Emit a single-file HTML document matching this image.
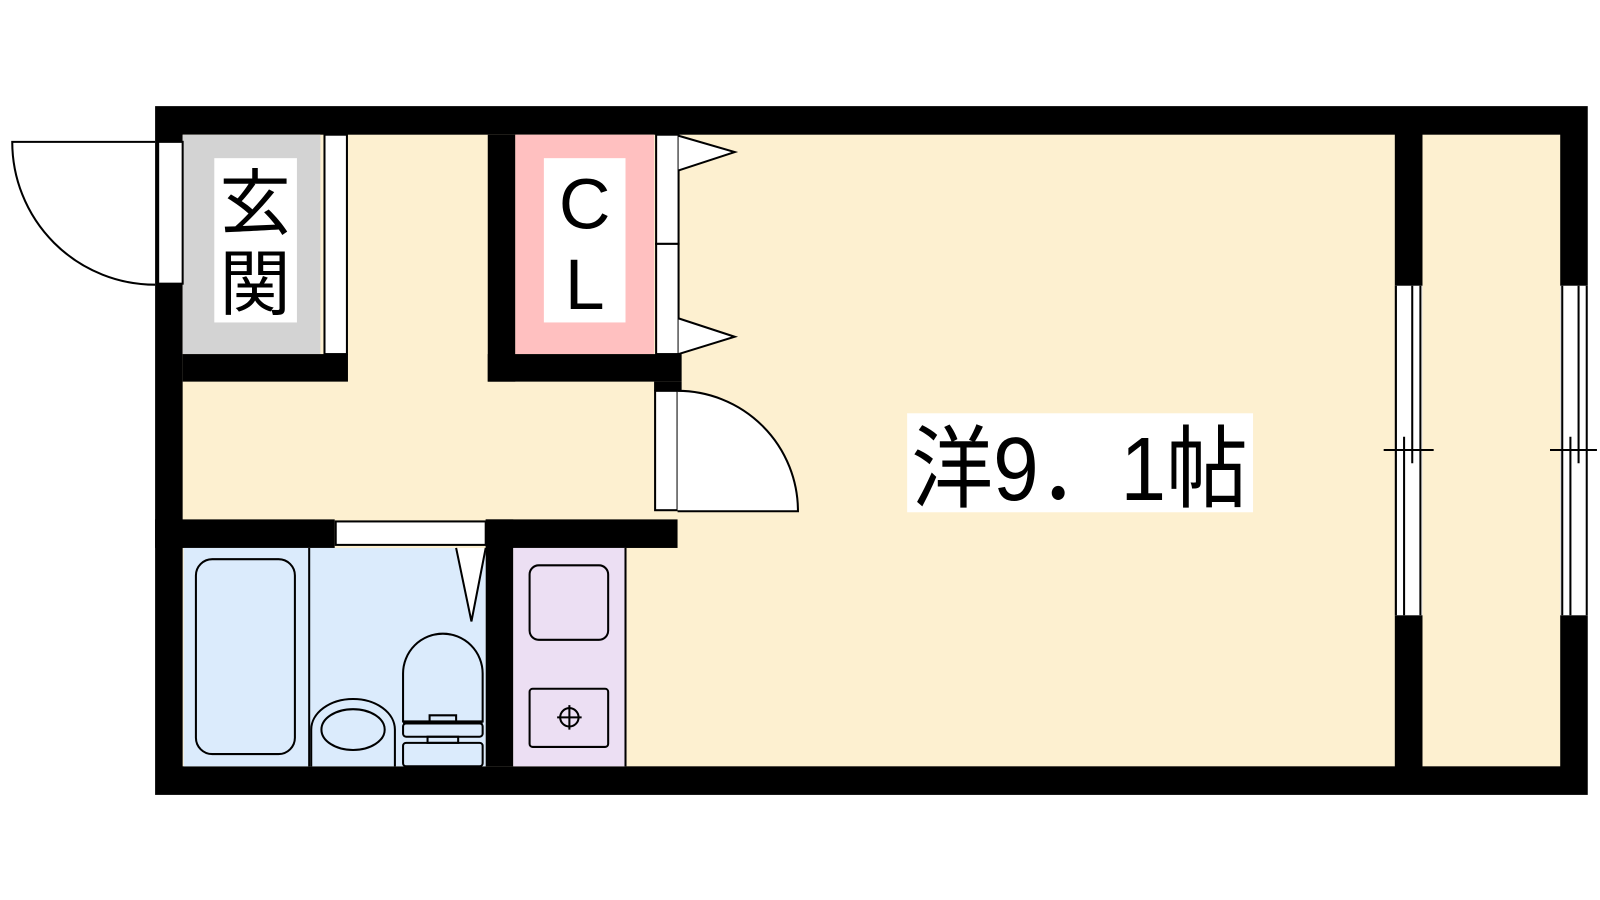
<!DOCTYPE html>
<html><head><meta charset="utf-8"><style>
html,body{margin:0;padding:0;background:#fff;}
svg{display:block;}
text{font-family:"Liberation Sans","Noto Sans CJK JP",sans-serif;}
</style></head><body>
<svg width="1600" height="900" viewBox="0 0 1568 882" xmlns="http://www.w3.org/2000/svg">
<rect width="1568" height="882" fill="#fff"/>
<!-- outer walls -->
<rect x="152" y="104" width="1404" height="675" fill="#000"/>
<!-- interior yellow -->
<rect x="179" y="132" width="1188" height="619" fill="#fdf0d0"/>
<rect x="1394" y="132" width="135" height="619" fill="#fdf0d0"/>
<!-- genkan -->
<rect x="179" y="132" width="135" height="215" fill="#d3d3d3"/>
<rect x="318" y="132" width="22" height="215" fill="#fff" stroke="#000" stroke-width="2"/>
<rect x="179" y="347" width="162" height="27" fill="#000"/>
<rect x="210" y="155" width="81" height="161" fill="#fff"/>
<text x="250" y="224" font-size="70" text-anchor="middle">玄</text>
<text x="250" y="303" font-size="70" text-anchor="middle">関</text>
<!-- entrance door -->
<rect x="155" y="139" width="24" height="139" fill="#fff" stroke="#000" stroke-width="2"/>
<path d="M152 139 L12 139 A140 140 0 0 0 152 279" fill="none" stroke="#000" stroke-width="2"/>
<!-- CL -->
<rect x="478" y="132" width="27" height="242" fill="#000"/>
<rect x="505" y="132" width="136" height="215" fill="#ffc0c0"/>
<rect x="478" y="347" width="190" height="27" fill="#000"/>
<rect x="641" y="374" width="27" height="9" fill="#000"/>
<rect x="643" y="132" width="22" height="107" fill="#fff" stroke="#000" stroke-width="2"/>
<rect x="643" y="239" width="22" height="108" fill="#fff" stroke="#000" stroke-width="2"/>
<path d="M665 133 L720 149 L665 167" fill="#fff" stroke="#000" stroke-width="2"/>
<path d="M665 312 L720 330 L665 347" fill="#fff" stroke="#000" stroke-width="2"/>
<rect x="533" y="155" width="80" height="161" fill="#fff"/>
<text x="573" y="224" font-size="70" text-anchor="middle">C</text>
<text x="573" y="303" font-size="70" text-anchor="middle">L</text>
<!-- hall door to room -->
<rect x="642" y="383" width="22" height="117" fill="#fff" stroke="#000" stroke-width="2"/>
<path d="M664 383 A118 118 0 0 1 782 501 L664 501" fill="#fff" stroke="#000" stroke-width="2"/>
<!-- wall under hall -->
<rect x="152" y="509" width="176" height="28" fill="#000"/>
<rect x="476" y="509" width="188" height="28" fill="#000"/>
<rect x="329" y="511" width="147" height="23" fill="#fff" stroke="#000" stroke-width="2"/>
<!-- bath -->
<rect x="180" y="537" width="296" height="214" fill="#dbebfc"/>
<line x1="303" y1="537" x2="303" y2="751" stroke="#000" stroke-width="2"/>
<rect x="192" y="548" width="97" height="191" rx="16" fill="none" stroke="#000" stroke-width="2"/>
<path d="M447 537 L462 609 L476 537" fill="#fff" stroke="#000" stroke-width="2"/>
<path d="M395 707 L395 660 A39 39 0 0 1 473 660 L473 707 Z" fill="none" stroke="#000" stroke-width="2"/>
<path d="M395 709 L421 709 L421 701 L447 701 L447 709 L473 709" fill="none" stroke="#000" stroke-width="2"/>
<rect x="395" y="709" width="78" height="13" rx="3" fill="none" stroke="#000" stroke-width="2"/>
<rect x="419" y="722" width="30" height="6" fill="none" stroke="#000" stroke-width="2"/>
<rect x="395" y="728" width="78" height="23" rx="3" fill="none" stroke="#000" stroke-width="2"/>
<path d="M305 751 L305 715 A41 30 0 0 1 387 715 L387 751" fill="none" stroke="#000" stroke-width="2"/>
<ellipse cx="346" cy="715" rx="31" ry="20" fill="none" stroke="#000" stroke-width="2"/>
<!-- wall bath/kitchen -->
<rect x="476" y="509" width="27" height="242" fill="#000"/>
<!-- kitchen -->
<rect x="503" y="537" width="110" height="214" fill="#ecdff3"/>
<line x1="613" y1="537" x2="613" y2="751" stroke="#000" stroke-width="2"/>
<rect x="519" y="554" width="77" height="73" rx="9" fill="none" stroke="#000" stroke-width="2"/>
<rect x="519" y="675" width="77" height="57" rx="3" fill="none" stroke="#000" stroke-width="2"/>
<circle cx="558" cy="703" r="9" fill="none" stroke="#000" stroke-width="2"/>
<path d="M558 691 V715 M546 703 H570" stroke="#000" stroke-width="2"/>
<!-- main room label -->
<rect x="889" y="405" width="339" height="97" fill="#fff"/>
<text x="893" y="490" font-size="88" textLength="330" lengthAdjust="spacingAndGlyphs">洋9．1帖</text>
<!-- partition wall w/ window -->
<rect x="1367" y="132" width="27" height="619" fill="#000"/>
<rect x="1367" y="280" width="27" height="323" fill="#fff"/>
<g stroke="#000" stroke-width="2">
<line x1="1368" y1="280" x2="1368" y2="603"/><line x1="1392" y1="280" x2="1392" y2="603"/>
<line x1="1384" y1="280" x2="1384" y2="454"/><line x1="1376" y1="428" x2="1376" y2="603"/>
<line x1="1356" y1="441" x2="1405" y2="441"/>
</g>
<!-- right wall window -->
<rect x="1529" y="280" width="30" height="323" fill="#fff"/>
<g stroke="#000" stroke-width="2">
<line x1="1531" y1="280" x2="1531" y2="603"/><line x1="1555" y1="280" x2="1555" y2="603"/>
<line x1="1547" y1="280" x2="1547" y2="454"/><line x1="1539" y1="428" x2="1539" y2="603"/>
<line x1="1519" y1="441" x2="1565" y2="441"/>
</g>
</svg>
</body></html>
